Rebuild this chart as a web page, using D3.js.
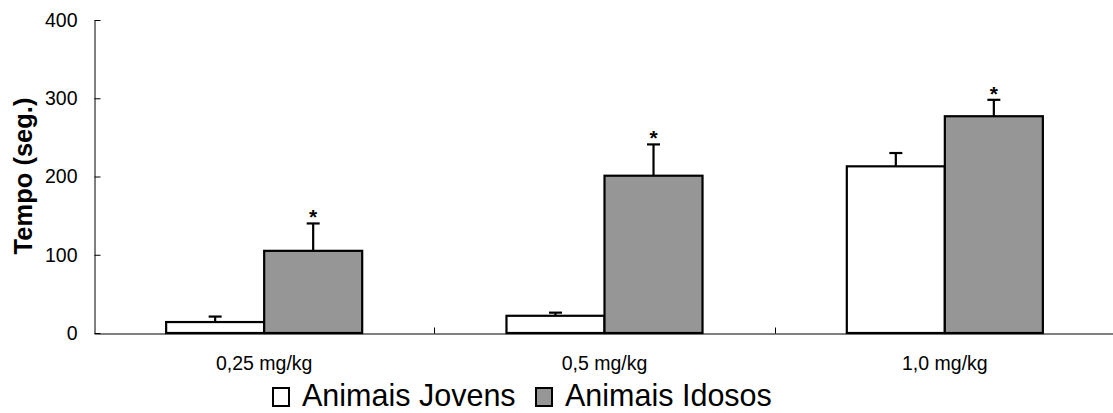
<!DOCTYPE html>
<html>
<head>
<meta charset="utf-8">
<script src="https://cdn.jsdelivr.net/npm/d3@7"></script>
<style>
  html, body { margin: 0; padding: 0; background: #fff; }
  svg { display: block; font-family: "Liberation Sans", Arial, sans-serif; }
</style>
</head>
<body>
<svg id="chart" width="1113" height="413"></svg>
<script>
const categories = ["0,25 mg/kg", "0,5 mg/kg", "1,0 mg/kg"];
const seriesNames = ["Animais Jovens", "Animais Idosos"];
const jovens = [14, 22, 213];
const jovensErr = [7, 4, 17];
const idosos = [105, 201, 277];
const idososErr = [35, 40, 21];
const idososSig = [true, true, true];
const yTicks = [0, 100, 200, 300, 400];

const colors = ["#ffffff", "#969696"];

const svg = d3.select("#chart");
const x0 = 94, x1 = 1115, yTop = 20, yBottom = 333;

const x = d3.scaleBand().domain(categories).range([x0, x1]).paddingInner(0).paddingOuter(0);
const xs = d3.scaleBand().domain(seriesNames).range([0, x.bandwidth()]).paddingInner(0).paddingOuter(0.736);
const y = d3.scaleLinear().domain([0, 400]).range([yBottom, yTop]);

const data = [];
categories.forEach((c, i) => {
  data.push({cat: c, s: seriesNames[0], v: jovens[i], e: jovensErr[i], sig: false});
  data.push({cat: c, s: seriesNames[1], v: idosos[i], e: idososErr[i], sig: idososSig[i]});
});
const color = d3.scaleOrdinal().domain(seriesNames).range(colors);

// Y axis
const yAxis = d3.axisLeft(y).tickValues(yTicks).tickSizeInner(-6).tickSizeOuter(0).tickPadding(17);
const gy = svg.append("g").attr("transform", `translate(${x0 + 0.5},0)`).call(yAxis);
gy.select(".domain").attr("stroke", "#000").attr("stroke-width", 1);
gy.selectAll(".tick line").attr("stroke", "#000");
gy.selectAll(".tick text").attr("font-size", 19.5).attr("fill", "#000")
  .attr("font-family", "Liberation Sans, Arial, sans-serif");

// X axis
const xAxis = d3.axisBottom(x).tickSize(0).tickPadding(23);
const gx = svg.append("g").attr("transform", `translate(0,${yBottom + 0.5})`).call(xAxis);
gx.select(".domain").attr("stroke", "#000").attr("stroke-width", 1);
gx.selectAll(".tick text").attr("font-size", 19.5).attr("fill", "#000")
  .attr("font-family", "Liberation Sans, Arial, sans-serif");

// category boundary ticks (inside, upward)
gx.selectAll(".bound").data(categories.slice(1)).enter().append("line")
  .attr("x1", d => Math.round(x(d)) + 0.5).attr("x2", d => Math.round(x(d)) + 0.5)
  .attr("y1", 0).attr("y2", -6).attr("stroke", "#000");

// Bars
const g = svg.append("g");
g.selectAll("rect.bar").data(data).enter().append("rect")
  .attr("class", "bar")
  .attr("x", d => x(d.cat) + xs(d.s))
  .attr("y", d => y(d.v))
  .attr("width", xs.bandwidth())
  .attr("height", d => y(0) - y(d.v))
  .attr("fill", d => color(d.s))
  .attr("stroke", "#000")
  .attr("stroke-width", 2.2);

// Error bars
const cx = d => x(d.cat) + xs(d.s) + xs.bandwidth() / 2;
g.selectAll("line.err").data(data).enter().append("line")
  .attr("x1", cx).attr("x2", cx)
  .attr("y1", d => y(d.v)).attr("y2", d => y(d.v + d.e))
  .attr("stroke", "#000").attr("stroke-width", 2.2);
g.selectAll("line.cap").data(data).enter().append("line")
  .attr("x1", d => cx(d) - 6.5).attr("x2", d => cx(d) + 6.5)
  .attr("y1", d => y(d.v + d.e)).attr("y2", d => y(d.v + d.e))
  .attr("stroke", "#000").attr("stroke-width", 2.2);

// Significance asterisks
g.selectAll("text.sig").data(data.filter(d => d.sig)).enter().append("text")
  .attr("x", cx).attr("y", d => y(d.v + d.e) + 1)
  .attr("text-anchor", "middle")
  .attr("font-size", 21).attr("font-weight", "bold")
  .text("*");

// Y label
svg.append("text")
  .attr("transform", "translate(32,176) rotate(-90)")
  .attr("text-anchor", "middle")
  .attr("font-size", 25.5).attr("font-weight", "bold")
  .text("Tempo (seg.)");

// Legend
const legendX = [273, 536];
const lg = svg.append("g");
seriesNames.forEach((s, i) => {
  lg.append("rect").attr("x", legendX[i]).attr("y", 388).attr("width", 16).attr("height", 18)
    .attr("fill", color(s)).attr("stroke", "#000").attr("stroke-width", 2);
  lg.append("text").attr("x", legendX[i] + 29).attr("y", 405.5)
    .attr("font-size", 30.5).attr("fill", "#000").text(s);
});
</script>
</body>
</html>
